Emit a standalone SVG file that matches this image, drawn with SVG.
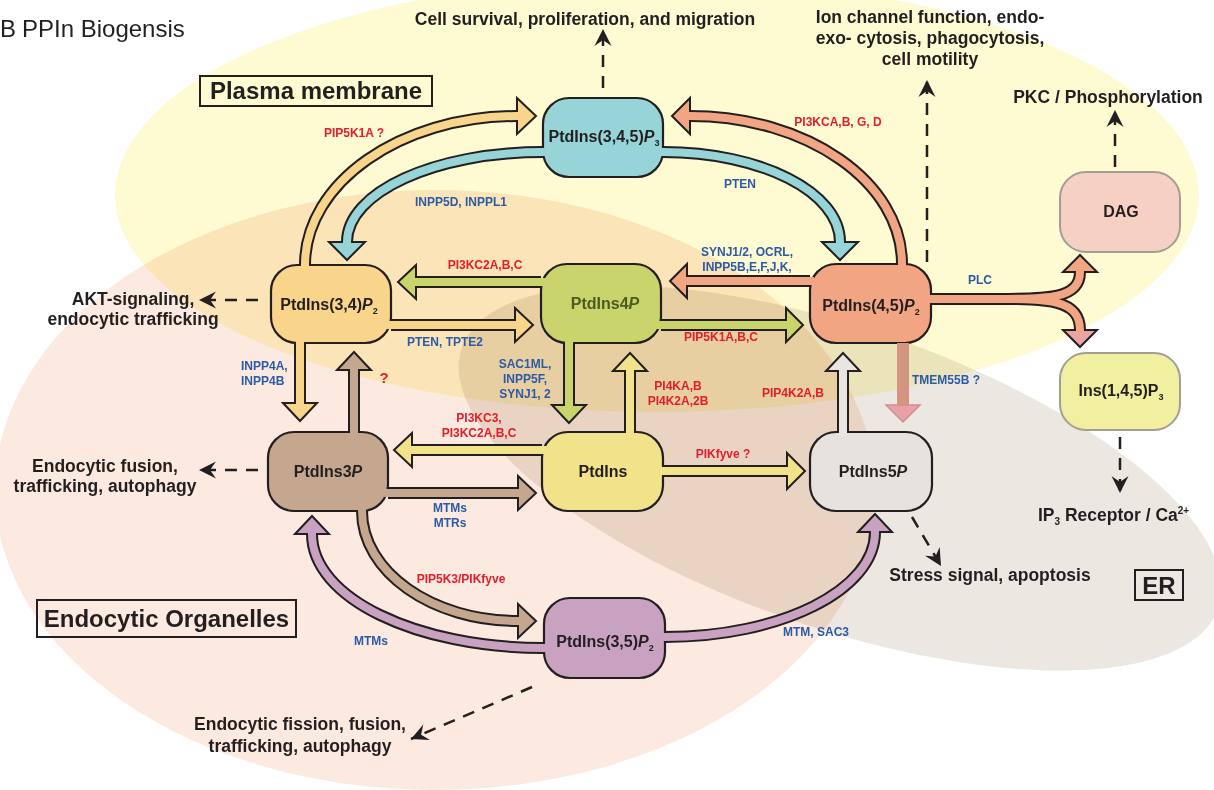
<svg xmlns="http://www.w3.org/2000/svg" width="1214" height="790" viewBox="0 0 1214 790">
<defs>
<style>
.bg{mix-blend-mode:multiply}
.t{font-family:"Liberation Sans",Arial,Helvetica,sans-serif;font-weight:bold;fill:#231f20}
.nl{font-size:16px;text-anchor:middle}
.bl{font-size:17.5px;text-anchor:middle}
.hd{font-size:24px}
.r{font-family:"Liberation Sans",Arial,Helvetica,sans-serif;font-weight:bold;font-size:12px;fill:#e31e2a;text-anchor:middle}
.b{font-family:"Liberation Sans",Arial,Helvetica,sans-serif;font-weight:bold;font-size:12px;fill:#2b5ba6;text-anchor:middle}
.node{stroke:#231f20;stroke-width:2.2}
.node2{stroke:#a39d94;stroke-width:2}
.box{fill:none;stroke:#231f20;stroke-width:2}
.o{fill:none;stroke:#231f20;stroke-width:12}
.f{fill:none;stroke-width:8}
.h{stroke:#231f20;stroke-width:2;stroke-linejoin:miter}
.d{fill:none;stroke:#231f20;stroke-width:2.5;stroke-dasharray:12 9;marker-end:url(#dart)}
</style>
<marker id="dart" markerUnits="userSpaceOnUse" markerWidth="20" markerHeight="20" viewBox="-18 -10 20 20" refX="0" refY="0" orient="auto">
<path d="M0,0 L-17,-8.5 L-11,0 L-17,8.5 Z" fill="#231f20"/>
</marker>
<linearGradient id="pinkgrad" x1="0" y1="0" x2="0" y2="1">
<stop offset="0" stop-color="#f2a583"/>
<stop offset="1" stop-color="#e9a0a6"/>
</linearGradient>
</defs>

<rect width="1214" height="790" fill="#ffffff"/>
<g id="regions">
<ellipse class="bg" cx="657" cy="195" rx="542" ry="217" fill="#fefad2"/>
<ellipse class="bg" cx="435" cy="490" rx="440" ry="300" fill="#fce9df"/>
<ellipse class="bg" cx="840" cy="478" rx="400" ry="150" transform="rotate(19 840 478)" fill="#ece8e1"/>
</g>

<g id="title">
<text x="0" y="37" style="font-family:'Liberation Sans',Arial,sans-serif;font-size:24px;fill:#231f20">B</text>
<text x="22" y="37" style="font-family:'Liberation Sans',Arial,sans-serif;font-size:24px;fill:#231f20">PPIn Biogensis</text>
</g>

<g id="region-labels">
<rect class="box" x="200" y="76" width="232" height="30"/>
<text class="t hd" x="316" y="99" text-anchor="middle">Plasma membrane</text>
<rect class="box" x="37" y="600" width="259" height="37"/>
<text class="t hd" x="166.5" y="627" text-anchor="middle">Endocytic Organelles</text>
<rect class="box" x="1135" y="570" width="48" height="30"/>
<text class="t hd" x="1159" y="594" text-anchor="middle">ER</text>
</g>

<g id="n-pip3">
<rect class="node" x="543" y="98" width="120" height="79" rx="26" fill="#96d4d8"/>
<text class="t nl" x="604" y="142">PtdIns(3,4,5)<tspan font-style="italic">P</tspan><tspan font-size="9" dy="4">3</tspan></text>
</g>
<g id="n-pi34p2">
<rect class="node" x="271" y="265" width="120" height="78" rx="26" fill="#f9d48b"/>
<text class="t nl" x="329" y="310">PtdIns(3,4)<tspan font-style="italic">P</tspan><tspan font-size="9" dy="4">2</tspan></text>
</g>
<g id="n-pi4p">
<rect class="node" x="541" y="264" width="120" height="79" rx="26" fill="#c9d46c"/>
<text class="t nl" x="605" y="309" style="fill:#4e5a22">PtdIns4<tspan font-style="italic">P</tspan></text>
</g>
<g id="n-pi45p2">
<rect class="node" x="810" y="264" width="121" height="79" rx="26" fill="#f2a583"/>
<text class="t nl" x="871" y="311">PtdIns(4,5)<tspan font-style="italic">P</tspan><tspan font-size="9" dy="4">2</tspan></text>
</g>
<g id="n-pi3p">
<rect class="node" x="268" y="432" width="120" height="79" rx="26" fill="#c5a78f"/>
<text class="t nl" x="328" y="477">PtdIns3<tspan font-style="italic">P</tspan></text>
</g>
<g id="n-pi">
<rect class="node" x="542" y="432" width="121" height="79" rx="26" fill="#f2e38a"/>
<text class="t nl" x="603" y="477">PtdIns</text>
</g>
<g id="n-pi5p">
<rect class="node" x="810" y="432" width="122" height="79" rx="26" fill="#e6e3de"/>
<text class="t nl" x="873" y="477">PtdIns5<tspan font-style="italic">P</tspan></text>
</g>
<g id="n-pi35p2">
<rect class="node" x="544" y="598" width="121" height="80" rx="26" fill="#c9a2c2"/>
<text class="t nl" x="605" y="647">PtdIns(3,5)<tspan font-style="italic">P</tspan><tspan font-size="9" dy="4">2</tspan></text>
</g>
<g id="n-dag">
<rect class="node2" x="1060" y="172" width="120" height="80" rx="26" fill="#f6d1c3"/>
<text class="t nl" x="1121" y="217">DAG</text>
</g>
<g id="n-ip3">
<rect class="node2" x="1060" y="353" width="120" height="77" rx="26" fill="#f0ee98" fill-opacity="0.92"/>
<text class="t nl" x="1121" y="396">Ins(1,4,5)P<tspan font-size="9" dy="4">3</tspan></text>
</g>

<g id="connectors">
<g>
<path class="o" d="M305,265 C305,183 400,116 517,116"/>
<polygon class="h" fill="#f9d48b" points="517,98 536,116 517,134"/>
<path class="f" stroke="#f9d48b" d="M305,269 L305,265 C305,183 400,116 517,116 L520,116"/>
</g>
<g>
<path class="o" d="M543,152 C435,152 347,192 347,242"/>
<polygon class="h" fill="#96d4d8" points="329,242 347,260 365,242"/>
<path class="f" stroke="#96d4d8" d="M547,152 L543,152 C435,152 347,192 347,242 L347,245"/>
</g>
<g>
<path class="o" d="M663,152 C761,152 840,192 840,242"/>
<polygon class="h" fill="#96d4d8" points="822,242 840,260 858,242"/>
<path class="f" stroke="#96d4d8" d="M659,152 L663,152 C761,152 840,192 840,242 L840,245"/>
</g>
<g>
<path class="o" d="M902,264 C902,182 807,116 690,116"/>
<polygon class="h" fill="#f2a583" points="690,98 672,116 690,134"/>
<path class="f" stroke="#f2a583" d="M902,268 L902,264 C902,182 807,116 690,116 L687,116"/>
</g>
<g>
<path class="o" d="M541,282 L416,282"/>
<polygon class="h" fill="#c9d46c" points="416,265 398,282 416,299"/>
<path class="f" stroke="#c9d46c" d="M545,282 L413,282"/>
</g>
<g>
<path class="o" d="M391,325 L515,325"/>
<polygon class="h" fill="#f9d48b" points="515,308 533,325 515,342"/>
<path class="f" stroke="#f9d48b" d="M387,325 L518,325"/>
</g>
<g>
<path class="o" d="M810,281 L687,281"/>
<polygon class="h" fill="#f2a583" points="687,264 670,281 687,298"/>
<path class="f" stroke="#f2a583" d="M814,281 L684,281"/>
</g>
<g>
<path class="o" d="M661,325 L786,325"/>
<polygon class="h" fill="#c9d46c" points="786,308 803,325 786,342"/>
<path class="f" stroke="#c9d46c" d="M657,325 L789,325"/>
</g>
<g>
<path class="o" d="M300,343 L300,403"/>
<polygon class="h" fill="#f9d48b" points="283,403 300,421 317,403"/>
<path class="f" stroke="#f9d48b" d="M300,339 L300,406"/>
</g>
<g>
<path class="o" d="M354,432 L354,370"/>
<polygon class="h" fill="#c5a78f" points="337,370 354,352 371,370"/>
<path class="f" stroke="#c5a78f" d="M354,436 L354,367"/>
</g>
<g>
<path class="o" d="M542,450 L412,450"/>
<polygon class="h" fill="#f2e38a" points="412,433 394,450 412,467"/>
<path class="f" stroke="#f2e38a" d="M546,450 L409,450"/>
</g>
<g>
<path class="o" d="M388,493 L518,493"/>
<polygon class="h" fill="#c5a78f" points="518,476 536,493 518,510"/>
<path class="f" stroke="#c5a78f" d="M384,493 L521,493"/>
</g>
<g>
<path class="o" d="M569,343 L569,405"/>
<polygon class="h" fill="#c9d46c" points="552,405 569,423 586,405"/>
<path class="f" stroke="#c9d46c" d="M569,339 L569,408"/>
</g>
<g>
<path class="o" d="M630,432 L630,371"/>
<polygon class="h" fill="#f2e38a" points="613,371 630,353 647,371"/>
<path class="f" stroke="#f2e38a" d="M630,436 L630,368"/>
</g>
<g>
<path class="o" d="M663,471 L787,471"/>
<polygon class="h" fill="#f2e38a" points="787,453 805,471 787,489"/>
<path class="f" stroke="#f2e38a" d="M659,471 L790,471"/>
</g>
<g>
<path class="o" d="M843,432 L843,371"/>
<polygon class="h" fill="#e9e6e1" points="826,371 843,353 860,371"/>
<path class="f" stroke="#e9e6e1" d="M843,436 L843,368"/>
</g>
<g>
<path d="M903,343 L903,405" fill="none" stroke="#d39580" stroke-width="12"/>
<polygon points="886,405 903,422 920,405" fill="#e9a0a6" stroke="#d08e92" stroke-width="1.5"/>
<path class="f" stroke="url(#pinkgrad)" d="M903,339 L903,408"/>
</g>
<g>
<path class="o" d="M362,511 C362,572 432,621 518,621"/>
<polygon class="h" fill="#c5a78f" points="518,604 536,621 518,638"/>
<path class="f" stroke="#c5a78f" d="M362,507 L362,511 C362,572 432,621 518,621 L521,621"/>
</g>
<g>
<path class="o" d="M544,648 C416,648 312,598 312,534"/>
<polygon class="h" fill="#c9a2c2" points="295,534 312,516 329,534"/>
<path class="f" stroke="#c9a2c2" d="M548,648 L544,648 C416,648 312,598 312,534 L312,531"/>
</g>
<g>
<path class="o" d="M665,637 C781,637 875,590 875,532"/>
<polygon class="h" fill="#c9a2c2" points="858,532 875,514 892,532"/>
<path class="f" stroke="#c9a2c2" d="M661,637 L665,637 C781,637 875,590 875,532 L875,529"/>
</g>
<g>
<path class="o" d="M931,299 L992,299 C1045,299 1080,300 1080,272"/>
<path class="o" d="M931,299 L992,299 C1045,299 1080,298 1080,330"/>
<polygon class="h" fill="#f2a583" points="1063,272 1080,255 1097,272"/>
<polygon class="h" fill="#eba3a3" points="1063,330 1080,347 1097,330"/>
<path class="f" stroke="#f2a583" d="M927,299 L992,299 C1045,299 1080,300 1080,272 L1080,269"/>
<path class="f" stroke="#f2a583" d="M927,299 L992,299 C1045,299 1080,298 1080,330 L1080,333"/>
</g>
<path class="d" d="M603,88 L603,29"/>
<path class="d" d="M927,262 L927,80"/>
<path class="d" d="M1115,167 L1115,110"/>
<path class="d" d="M258,300 L199,300"/>
<path class="d" d="M258,470 L199,470"/>
<path class="d" d="M1120,437 L1120,493"/>
<path class="d" d="M912,517 L941,566"/>
<path class="d" d="M532,687 L411,739"/>
</g>

<g id="enzyme-labels">
<text class="r" x="354" y="137">PIP5K1A ?</text>
<text class="r" x="838" y="126">PI3KCA,B, G, D</text>
<text class="b" x="740" y="188">PTEN</text>
<text class="b" x="461" y="206">INPP5D, INPPL1</text>
<text class="r" x="485" y="269">PI3KC2A,B,C</text>
<text class="b" x="445" y="346">PTEN, TPTE2</text>
<text class="b" x="241" y="370" style="text-anchor:start">INPP4A,<tspan x="241" dy="15">INPP4B</tspan></text>
<text class="r" x="384" y="383" style="font-size:15px">?</text>
<text class="b" x="525" y="368">SAC1ML,<tspan x="525" dy="15">INPP5F,</tspan><tspan x="525" dy="15">SYNJ1, 2</tspan></text>
<text class="b" x="747" y="256">SYNJ1/2, OCRL,<tspan x="747" dy="15">INPP5B,E,F,J,K,</tspan></text>
<text class="r" x="721" y="341">PIP5K1A,B,C</text>
<text class="r" x="678" y="390">PI4KA,B<tspan x="678" dy="15">PI4K2A,2B</tspan></text>
<text class="r" x="793" y="397">PIP4K2A,B</text>
<text class="b" x="912" y="384" style="text-anchor:start">TMEM55B ?</text>
<text class="b" x="980" y="284">PLC</text>
<text class="r" x="479" y="422">PI3KC3,<tspan x="479" dy="15">PI3KC2A,B,C</tspan></text>
<text class="b" x="450" y="512">MTMs<tspan x="450" dy="15">MTRs</tspan></text>
<text class="r" x="723" y="458">PIKfyve ?</text>
<text class="r" x="461" y="583">PIP5K3/PIKfyve</text>
<text class="b" x="371" y="645">MTMs</text>
<text class="b" x="816" y="636">MTM, SAC3</text>
</g>

<g id="outcome-labels">
<text class="t bl" x="585" y="25">Cell survival, proliferation, and migration</text>
<text class="t bl" x="930" y="23">Ion channel function, endo-<tspan x="930" dy="21">exo- cytosis, phagocytosis,</tspan><tspan x="930" dy="21">cell motility</tspan></text>
<text class="t bl" x="1108" y="103">PKC / Phosphorylation</text>
<text class="t bl" x="133" y="305">AKT-signaling,<tspan x="133" dy="20">endocytic trafficking</tspan></text>
<text class="t bl" x="105" y="472">Endocytic fusion,<tspan x="105" dy="20">trafficking, autophagy</tspan></text>
<text class="t bl" x="300" y="730">Endocytic fission, fusion,<tspan x="300" dy="22">trafficking, autophagy</tspan></text>
<text class="t bl" x="990" y="581">Stress signal, apoptosis</text>
<text class="t bl" x="1038" y="521" style="text-anchor:start">IP<tspan font-size="10" dy="4">3</tspan><tspan dy="-4"> Receptor / Ca</tspan><tspan font-size="10" dy="-7">2+</tspan></text>
</g>
</svg>
